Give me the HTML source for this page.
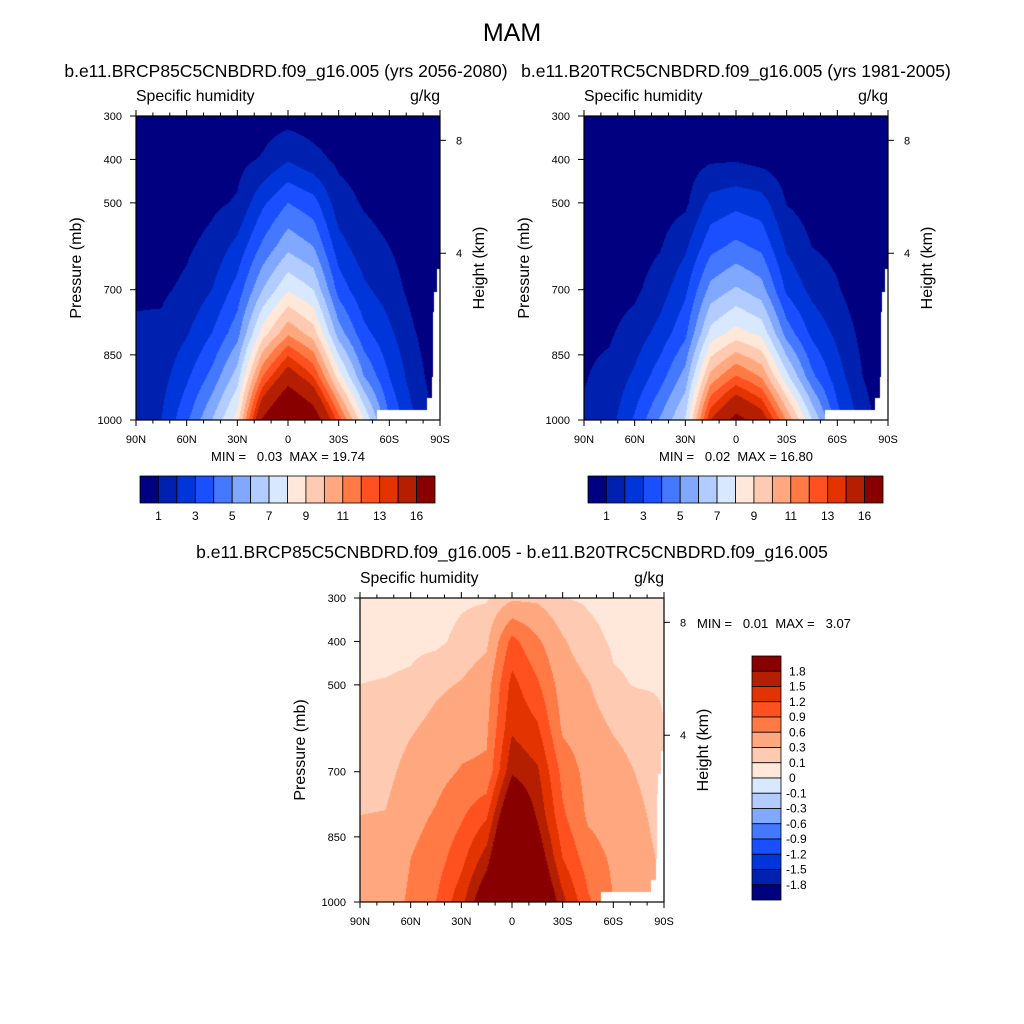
<!DOCTYPE html>
<html><head><meta charset="utf-8">
<style>
html,body{margin:0;padding:0;background:#fff;}
#root{position:relative;width:1024px;height:1024px;font-family:"Liberation Sans",sans-serif;color:#000;overflow:hidden;}
.t{position:absolute;white-space:nowrap;}
canvas{position:absolute;}
svg{position:absolute;left:0;top:0;}
</style></head>
<body>
<div id="root">
<div class="t" style="left:0;width:1024px;text-align:center;top:19px;font-size:25px;">MAM</div>

<div class="t" style="left:36px;width:500px;text-align:center;top:61px;font-size:17.5px;">b.e11.BRCP85C5CNBDRD.f09_g16.005 (yrs 2056-2080)</div>
<div class="t" style="left:136px;top:88px;font-size:15.8px;">Specific humidity</div>
<div class="t" style="left:340px;width:100px;text-align:right;top:88px;font-size:15.8px;">g/kg</div>
<div class="t" style="left:138px;width:300px;text-align:center;top:449px;font-size:13px;">MIN =&nbsp;&nbsp; 0.03&nbsp; MAX = 19.74</div>

<div class="t" style="left:486px;width:500px;text-align:center;top:61px;font-size:17.5px;">b.e11.B20TRC5CNBDRD.f09_g16.005 (yrs 1981-2005)</div>
<div class="t" style="left:584px;top:88px;font-size:15.8px;">Specific humidity</div>
<div class="t" style="left:788px;width:100px;text-align:right;top:88px;font-size:15.8px;">g/kg</div>
<div class="t" style="left:586px;width:300px;text-align:center;top:449px;font-size:13px;">MIN =&nbsp;&nbsp; 0.02&nbsp; MAX = 16.80</div>

<div class="t" style="left:162px;width:700px;text-align:center;top:542px;font-size:17.5px;">b.e11.BRCP85C5CNBDRD.f09_g16.005 - b.e11.B20TRC5CNBDRD.f09_g16.005</div>
<div class="t" style="left:360px;top:570px;font-size:15.8px;">Specific humidity</div>
<div class="t" style="left:564px;width:100px;text-align:right;top:570px;font-size:15.8px;">g/kg</div>
<div class="t" style="left:697px;top:616px;font-size:13px;">MIN =&nbsp;&nbsp; 0.01&nbsp; MAX =&nbsp;&nbsp; 3.07</div>

<canvas id="c1" width="304" height="304" style="left:136px;top:116px;"></canvas>
<canvas id="c2" width="304" height="304" style="left:584px;top:116px;"></canvas>
<canvas id="c3" width="304" height="304" style="left:360px;top:598px;"></canvas>
<svg id="ov" width="1024" height="1024"></svg>
</div>
<script>
const colors=["#000080","#0021b0","#0036d9","#1a4fff","#4479ff","#80a8ff","#b3ccff","#d8e8ff","#ffe8d9","#ffcab2","#ffa880","#ff7a45","#ff5020","#e23300","#b31f00","#880000"];
const absLevels=[1,2,3,4,5,6,7,8,9,10,11,12,13,14,16];
const absLabels=["1","3","5","7","9","11","13","16"];
const difLevels=[-1.8,-1.5,-1.2,-0.9,-0.6,-0.3,-0.1,0,0.1,0.3,0.6,0.9,1.2,1.5,1.8];
const difLabels=["-1.8","-1.5","-1.2","-0.9","-0.6","-0.3","-0.1","0","0.1","0.3","0.6","0.9","1.2","1.5","1.8"];
const lats=[90,75,60,45,30,15,0,-15,-30,-45,-60,-75,-90];
const pres=[1000,900,800,700,600,500,400,300];
const xTicks=["90N","60N","30N","0","30S","60S","90S"];
const pTicks=[300,400,500,700,850,1000];
const hTicks=[{km:"8",p:356},{km:"4",p:616}];
// future specific humidity (g/kg): rows = latitude, columns = pressure levels
const qFuture=[
[1.5,1.3,1.15,0.85,0.6,0.4,0.3,0.2],
[2.0,1.6,1.2,0.85,0.5,0.35,0.25,0.15],
[3.8,2.8,1.9,1.2,0.85,0.5,0.35,0.2],
[6.0,4.3,3.0,2.0,1.3,0.8,0.5,0.2],
[8.5,6.5,4.6,3.4,2.3,1.1,0.7,0.3],
[16.2,12,8.5,6.0,4.2,2.8,1.1,0.5],
[19.7,15,10.8,7.9,5.7,4.0,1.9,0.6],
[17.5,13,9.5,7.0,5.0,3.4,1.3,0.5],
[12.5,8.5,5.5,3.6,2.4,1.4,0.8,0.4],
[8.0,5.0,3.3,2.2,1.4,0.9,0.6,0.3],
[4.0,3.0,2.2,1.5,1.0,0.6,0.4,0.2],
[2.0,1.4,1.05,0.6,0.4,0.3,0.2,0.1],
[0.5,0.4,0.3,0.25,0.2,0.15,0.1,0.05]];
// difference future - present (g/kg)
const qDiff=[
[0.4,0.35,0.3,0.22,0.15,0.1,0.06,0.03],
[0.45,0.38,0.31,0.22,0.15,0.11,0.05,0.03],
[0.65,0.6,0.5,0.4,0.27,0.13,0.06,0.03],
[0.9,0.75,0.63,0.5,0.38,0.25,0.06,0.03],
[1.4,1.1,0.85,0.62,0.5,0.32,0.15,0.07],
[2.2,1.65,1.15,0.65,0.55,0.45,0.25,0.08],
[3.0,2.9,2.4,1.75,1.45,1.3,1.0,0.25],
[2.5,2.1,1.75,1.55,1.25,0.95,0.65,0.25],
[1.6,1.2,0.95,0.8,0.55,0.45,0.33,0.1],
[0.95,0.75,0.55,0.5,0.42,0.32,0.15,0.08],
[0.6,0.55,0.45,0.4,0.28,0.12,0.08,0.05],
[0.45,0.4,0.35,0.28,0.2,0.09,0.07,0.05],
[0.3,0.25,0.2,0.15,0.1,0.09,0.07,0.05]];
const qPresent=qFuture.map((r,i)=>r.map((v,j)=>Math.max(0.01,v-qDiff[i][j])));

const W=304,H=304;
function xOfLat(lat){return (90-lat)/180*W;}
function yOfP(p){return (p-300)/700*H;}
function latOfX(x){return 90-x/W*180;}
function pOfY(y){return 300+y/H*700;}
function sample(grid,lat,p){
  let fi=(90-lat)/15; let i0=Math.min(lats.length-2,Math.max(0,Math.floor(fi))); let ti=fi-i0;
  let fj=(1000-p)/100; let j0=Math.min(pres.length-2,Math.max(0,Math.floor(fj))); let tj=fj-j0;
  const a=grid[i0][j0],b=grid[i0][j0+1],c=grid[i0+1][j0],d=grid[i0+1][j0+1];
  return (a*(1-tj)+b*tj)*(1-ti)+(c*(1-tj)+d*tj)*ti;
}
function levelIndex(v,levels){let k=0;while(k<levels.length&&v>=levels[k])k++;return k;}
function isMissing(x,y){
  if(x>=241&&y>=294)return true;
  if(x>=291&&y>=282)return true;
  if(x>=296&&y>=261)return true;
  if(x>=297&&y>=196)return true;
  if(x>=298.5&&y>=176)return true;
  if(x>=301&&y>=153)return true;
  return false;
}
function hex(c){return [parseInt(c.substr(1,2),16),parseInt(c.substr(3,2),16),parseInt(c.substr(5,2),16)];}
const rgb=colors.map(hex);
function drawField(id,grid,levels){
  const cv=document.getElementById(id),ctx=cv.getContext('2d');
  const img=ctx.createImageData(W,H);
  for(let y=0;y<H;y++)for(let x=0;x<W;x++){
    const o=(y*W+x)*4;
    if(isMissing(x+0.5,y+0.5)){img.data[o]=255;img.data[o+1]=255;img.data[o+2]=255;img.data[o+3]=255;continue;}
    const v=sample(grid,latOfX(x+0.5),pOfY(y+0.5));
    const c=rgb[levelIndex(v,levels)];
    img.data[o]=c[0];img.data[o+1]=c[1];img.data[o+2]=c[2];img.data[o+3]=255;
  }
  ctx.putImageData(img,0,0);
}
drawField('c1',qFuture,absLevels);
drawField('c2',qPresent,absLevels);
drawField('c3',qDiff,difLevels);

const NS='http://www.w3.org/2000/svg';
const ov=document.getElementById('ov');
function mk(tag,attrs,text){const e=document.createElementNS(NS,tag);for(const k in attrs)e.setAttribute(k,attrs[k]);if(text!==undefined)e.textContent=text;ov.appendChild(e);return e;}
function axes(ox,oy,pfx){
  let e=mk('rect',{x:ox,y:oy,width:W,height:H,fill:'none',stroke:'#000','stroke-width':1.2});
  
  
  for(let lat=90;lat>=-90;lat-=10){
    const x=ox+xOfLat(lat),len=(lat%30===0)?6:3.5;
    mk('line',{x1:x,y1:oy,x2:x,y2:oy-len,stroke:'#000','stroke-width':1});
    mk('line',{x1:x,y1:oy+H,x2:x,y2:oy+H+len,stroke:'#000','stroke-width':1});
  }
  xTicks.forEach((lab,i)=>{
    const t=mk('text',{x:ox+i*W/6,y:oy+H+23,'font-size':11,'text-anchor':'middle','font-family':'Liberation Sans'},lab);
    
    
  });
  pTicks.forEach(p=>{
    const y=oy+yOfP(p);
    mk('line',{x1:ox,y1:y,x2:ox-6,y2:y,stroke:'#000','stroke-width':1});
    const t=mk('text',{x:ox-14,y:y+4,'font-size':11,'text-anchor':'end','font-family':'Liberation Sans'},String(p));
    
    
  });
  hTicks.forEach(h=>{
    const y=oy+yOfP(h.p);
    mk('line',{x1:ox+W,y1:y,x2:ox+W+6,y2:y,stroke:'#000','stroke-width':1});
    const t=mk('text',{x:ox+W+16,y:y+4,'font-size':11,'font-family':'Liberation Sans'},h.km);
    
    
  });
  let a=mk('text',{x:0,y:0,'font-size':16,'text-anchor':'middle','font-family':'Liberation Sans',transform:`translate(${ox-55},${oy+152}) rotate(-90)`},'Pressure (mb)');
  
  
  a=mk('text',{x:0,y:0,'font-size':16,'text-anchor':'middle','font-family':'Liberation Sans',transform:`translate(${ox+W+44},${oy+152}) rotate(-90)`},'Height (km)');
  
  
}
axes(136,116,'panel1');
axes(584,116,'panel2');
axes(360,598,'panel3');

function hbar(x0,y0,pfx){
  const bw=295/16;
  colors.forEach((c,i)=>{
    const r=mk('rect',{x:x0+i*bw,y:y0,width:bw,height:27,fill:c,stroke:'#000','stroke-width':0.8});
    
    
  });
  absLabels.forEach((lab,i)=>{
    const t=mk('text',{x:x0+bw*(1+2*i),y:y0+44,'font-size':12,'text-anchor':'middle','font-family':'Liberation Sans'},lab);
    
    
  });
}
hbar(140,476,'panel1');
hbar(588,476,'panel2');
(function(){
  const x0=752,y0=656,bh=244/16;
  colors.slice().reverse().forEach((c,i)=>{
    const r=mk('rect',{x:x0,y:y0+i*bh,width:29,height:bh,fill:c,stroke:'#000','stroke-width':0.8});
    
    
  });
  difLabels.slice().reverse().forEach((lab,i)=>{
    const t=mk('text',{x:lab.startsWith('-')?786:789,y:y0+(i+1)*bh+4,'font-size':12,'font-family':'Liberation Sans'},lab);
    
    
  });
})();
</script>
</body></html>
